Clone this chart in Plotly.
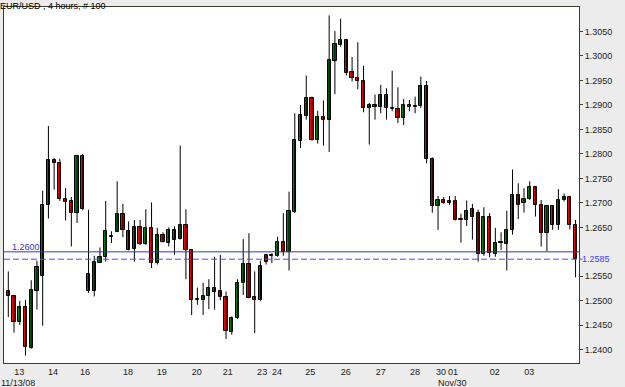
import plotly.graph_objects as go

# ---- data (EUR/USD, 4-hour candles, 100 bars) ----
opens = [1.2521, 1.2509, 1.2456, 1.2487, 1.2403, 1.2521, 1.2550, 1.2695, 1.2788, 1.2782,
         1.2708, 1.2703, 1.2679, 1.2796, 1.2555, 1.2521, 1.2578, 1.2589, 1.2630, 1.2641,
         1.2677, 1.2643, 1.2606, 1.2651, 1.2617, 1.2649, 1.2578, 1.2635, 1.2619, 1.2645,
         1.2626, 1.2655, 1.2603, 1.2503, 1.2501, 1.2509, 1.2526, 1.2521, 1.2508, 1.2437,
         1.2465, 1.2536, 1.2576, 1.2508, 1.2501, 1.2594, 1.2592, 1.2592, 1.2621, 1.2600,
         1.2682, 1.2827, 1.2878, 1.2915, 1.2829, 1.2876, 1.2870, 1.2990, 1.3023, 1.3033,
         1.2967, 1.2955, 1.2949, 1.2894, 1.2900, 1.2896, 1.2921, 1.2894, 1.2892, 1.2873,
         1.2900, 1.2897, 1.2897, 1.2939, 1.2789, 1.2693, 1.2706, 1.2704, 1.2704, 1.2667,
         1.2665, 1.2687, 1.2679, 1.2596, 1.2672, 1.2596, 1.2618, 1.2617, 1.2645, 1.2717,
         1.2700, 1.2708, 1.2732, 1.2696, 1.2638, 1.2693, 1.2655, 1.2706, 1.2712, 1.2655]
highs = [1.2560, 1.2511, 1.2500, 1.2502, 1.2542, 1.2582, 1.2725, 1.2857, 1.2792, 1.2790,
         1.2730, 1.2712, 1.2798, 1.2800, 1.2686, 1.2592, 1.2609, 1.2704, 1.2642, 1.2744,
         1.2698, 1.2662, 1.2665, 1.2665, 1.2687, 1.2701, 1.2649, 1.2640, 1.2650, 1.2652,
         1.2817, 1.2687, 1.2604, 1.2527, 1.2537, 1.2544, 1.2590, 1.2594, 1.2519, 1.2468,
         1.2544, 1.2626, 1.2638, 1.2560, 1.2582, 1.2596, 1.2597, 1.2631, 1.2679, 1.2723,
         1.2883, 1.2900, 1.2960, 1.2917, 1.2888, 1.2909, 1.3083, 1.3051, 1.3076, 1.3035,
         1.2998, 1.3028, 1.2980, 1.2904, 1.2921, 1.2941, 1.2934, 1.2970, 1.2936, 1.2912,
         1.2910, 1.2917, 1.2958, 1.2949, 1.2793, 1.2714, 1.2712, 1.2714, 1.2714, 1.2678,
         1.2705, 1.2698, 1.2686, 1.2691, 1.2679, 1.2649, 1.2640, 1.2684, 1.2768, 1.2740,
         1.2730, 1.2744, 1.2734, 1.2706, 1.2696, 1.2694, 1.2728, 1.2719, 1.2714, 1.2665]
lows = [1.2467, 1.2435, 1.2451, 1.2388, 1.2402, 1.2482, 1.2449, 1.2668, 1.2727, 1.2704,
        1.2664, 1.2611, 1.2659, 1.2685, 1.2516, 1.2509, 1.2577, 1.2580, 1.2618, 1.2640,
        1.2630, 1.2603, 1.2580, 1.2614, 1.2614, 1.2567, 1.2574, 1.2619, 1.2611, 1.2594,
        1.2625, 1.2544, 1.2471, 1.2492, 1.2471, 1.2483, 1.2482, 1.2501, 1.2422, 1.2431,
        1.2463, 1.2512, 1.2505, 1.2434, 1.2500, 1.2574, 1.2577, 1.2590, 1.2592, 1.2562,
        1.2679, 1.2812, 1.2870, 1.2827, 1.2821, 1.2817, 1.2804, 1.2922, 1.3019, 1.2960,
        1.2948, 1.2932, 1.2885, 1.2819, 1.2870, 1.2883, 1.2870, 1.2887, 1.2863, 1.2859,
        1.2887, 1.2883, 1.2894, 1.2781, 1.2680, 1.2645, 1.2698, 1.2696, 1.2664, 1.2619,
        1.2653, 1.2625, 1.2580, 1.2592, 1.2589, 1.2590, 1.2604, 1.2562, 1.2635, 1.2667,
        1.2680, 1.2706, 1.2672, 1.2611, 1.2601, 1.2645, 1.2645, 1.2703, 1.2646, 1.2548]
closes = [1.2509, 1.2456, 1.2487, 1.2405, 1.2523, 1.2569, 1.2696, 1.2788, 1.2781, 1.2708,
          1.2702, 1.2679, 1.2796, 1.2687, 1.2521, 1.2580, 1.2589, 1.2642, 1.2632, 1.2677,
          1.2644, 1.2604, 1.2651, 1.2617, 1.2649, 1.2578, 1.2635, 1.2621, 1.2645, 1.2625,
          1.2655, 1.2603, 1.2502, 1.2501, 1.2510, 1.2526, 1.2519, 1.2508, 1.2439, 1.2465,
          1.2536, 1.2576, 1.2506, 1.2501, 1.2571, 1.2580, 1.2594, 1.2621, 1.2599, 1.2684,
          1.2829, 1.2880, 1.2915, 1.2829, 1.2876, 1.2870, 1.2991, 1.3025, 1.3033, 1.2966,
          1.2954, 1.2948, 1.2894, 1.2899, 1.2896, 1.2921, 1.2894, 1.2892, 1.2873, 1.2900,
          1.2896, 1.2896, 1.2938, 1.2789, 1.2693, 1.2706, 1.2700, 1.2700, 1.2665, 1.2666,
          1.2684, 1.2672, 1.2596, 1.2671, 1.2597, 1.2619, 1.2620, 1.2645, 1.2717, 1.2696,
          1.2708, 1.2732, 1.2696, 1.2638, 1.2693, 1.2655, 1.2706, 1.2712, 1.2655, 1.2585]

# day labels and the bar index where each label starts
day_labels = ["13", "14", "16", "18", "19", "20", "21", "23", "24", "25",
              "26", "27", "28", "30", "01", "02", "03"]
day_pos = [1.2, 7.1, 12.7, 20.2, 26.1, 32.2, 37.6, 43.6, 46.2, 52.0,
           58.2, 64.3, 70.3, 74.8, 76.9, 84.2, 90.2]
price_ticks = [1.2400, 1.2450, 1.2500, 1.2550, 1.2650, 1.2700, 1.2750,
               1.2800, 1.2850, 1.2900, 1.2950, 1.3000, 1.3050]
level_line = 1.2600
bid_line = 1.2585

n = len(opens)
idx = list(range(n))

GREEN = "#008010"
RED = "#f00000"
BORDER = "#3c3c28"

# wicks
wx, wy = [], []
for i in idx:
    wx += [i, i, None]
    wy += [lows[i], highs[i], None]

bases = [min(o, c) for o, c in zip(opens, closes)]
heights = [max(abs(c - o), 0.00005) for o, c in zip(opens, closes)]
colors = [GREEN if c >= o else RED for o, c in zip(opens, closes)]

fig = go.Figure()
fig.add_trace(go.Scatter(x=wx, y=wy, mode="lines",
                         line=dict(color="#000000", width=1),
                         hoverinfo="skip", showlegend=False))
fig.add_trace(go.Bar(x=idx, y=heights, base=bases, width=0.56,
                     marker=dict(color=colors, line=dict(color="#000000", width=1)),
                     showlegend=False))

# horizontal levels
fig.add_shape(type="line", xref="paper", x0=0, x1=1, yref="y", y0=level_line, y1=level_line,
              line=dict(color="#3434c8", width=1))
fig.add_shape(type="line", xref="paper", x0=0, x1=1, yref="y", y0=bid_line, y1=bid_line,
              line=dict(color="#4a4aff", width=1, dash="6px,3px"))
fig.add_shape(type="line", xref="paper", x0=1, x1=1.006, yref="y", y0=bid_line, y1=bid_line,
              line=dict(color="#4a4aff", width=1))

FONT = "Liberation Sans, Arial, sans-serif"

fig.add_annotation(xref="paper", yref="y", x=0, y=level_line, xanchor="left", yanchor="bottom",
                   xshift=6, yshift=-2, text=f"{level_line:.4f}", showarrow=False,
                   font=dict(family=FONT, size=9, color="#3434c8"))
fig.add_annotation(xref="paper", yref="y", x=1, y=bid_line, xanchor="left", yanchor="middle",
                   xshift=1, text=f"{bid_line:.4f}", showarrow=False,
                   font=dict(family=FONT, size=9, color="#3c3cff"))
fig.add_annotation(xref="paper", yref="paper", x=0, y=1, xanchor="left", yanchor="top",
                   xshift=-5, yshift=7, text="EUR/USD , 4 hours, # 100", showarrow=False,
                   borderpad=0,
                   font=dict(family=FONT, size=9, color="#000000"))
fig.add_annotation(xref="paper", yref="paper", x=0, y=0, xanchor="left", yanchor="top",
                   xshift=-5, yshift=-13, text="11/13/08", showarrow=False,
                   font=dict(family=FONT, size=9, color="#222222"))
fig.add_annotation(xref="x", yref="paper", x=74.8, y=0, xanchor="left", yanchor="top",
                   xshift=-1, yshift=-13, text="Nov/30", showarrow=False,
                   font=dict(family=FONT, size=9, color="#222222"))

fig.update_layout(
    width=625, height=387,
    margin=dict(l=4, r=46, t=7, b=24),
    paper_bgcolor="#ececec", plot_bgcolor="#ffffff",
    bargap=0, showlegend=False,
    font=dict(family=FONT, size=9, color="#222222"),
)
fig.update_xaxes(range=[-0.75, 99.6], showgrid=False, zeroline=False,
                 showline=True, mirror=True, linecolor=BORDER, linewidth=1,
                 tickmode="array", tickvals=day_pos, ticktext=day_labels,
                 ticks="", ticklabelshift=4, tickfont=dict(size=9, color="#222222"))
fig.update_yaxes(range=[1.2373, 1.3100], side="right", showgrid=False, zeroline=False,
                 showline=True, mirror=True, linecolor=BORDER, linewidth=1,
                 tickmode="array", tickvals=price_ticks,
                 ticktext=[f"{v:.4f}" for v in price_ticks],
                 ticks="outside", ticklen=3, tickcolor=BORDER,
                 tickfont=dict(size=9, color="#222222"))

fig.write_html("out.html")
